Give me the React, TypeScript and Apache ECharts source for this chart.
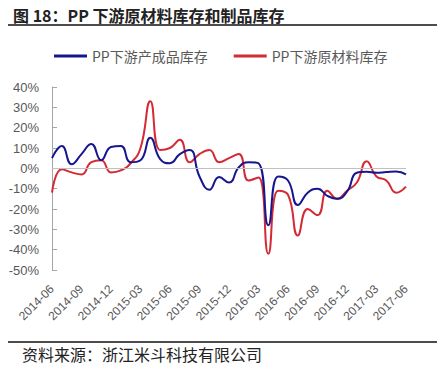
import React, { useEffect, useRef } from "react";
import * as echarts from "echarts";

const months: string[] = [
  "2014-06","2014-07","2014-08","2014-09","2014-10","2014-11","2014-12",
  "2015-01","2015-02","2015-03","2015-04","2015-05","2015-06","2015-07","2015-08","2015-09","2015-10","2015-11","2015-12",
  "2016-01","2016-02","2016-03","2016-04","2016-05","2016-06","2016-07","2016-08","2016-09","2016-10","2016-11","2016-12",
  "2017-01","2017-02","2017-03","2017-04","2017-05","2017-06",
];

const finishedGoods: number[] = [
  5, 11, 2, 7, 12, 4, 10.5, 11, 3, 4, 15, 4.5, 2.5, 7, 9, -4, -10.5, -4.3, -7,
  0.5, 3, 2.5, -28, -4, -6, -18, -12, -10, -13.5, -15, -11.5, -2.2, -1.7, -2.2, -1.8, -1.5, -3,
];

const rawMaterial: number[] = [
  -12, -0.5, -2, -3, 3, 4, -2, -1, 2.5, 10, 33, 9, 10, 14, 3, 7, 9, 3, 5,
  7, -6, -4.5, -42, -11, -13, -33, -20, -23, -11, -15, -11, -7, 3.5, -4, -6, -12, -9,
];

const seriesNames: string[] = ["PP下游产成品库存", "PP下游原材料库存"];
const titleText = "图 18：PP 下游原材料库存和制品库存";
const sourceText = "资料来源：浙江米斗科技有限公司";

export default function App() {
  const ref = useRef<HTMLDivElement>(null);
  useEffect(() => {
    if (!ref.current) return;
    const chart = echarts.init(ref.current, null, { renderer: "svg" });
    const cjk = '"Noto Sans CJK SC", "Liberation Sans", sans-serif';
    const latin = '"Liberation Sans", "Noto Sans CJK SC", sans-serif';
    chart.setOption({
      animation: false,
      backgroundColor: "#ffffff",
      grid: { left: 52, right: 39, top: 87, bottom: 101, containLabel: false },
      legend: {
        left: 49,
        top: 44,
        itemWidth: 33,
        itemHeight: 3,
        itemGap: 26,
        icon: "rect",
        textStyle: { fontSize: 14, color: "#595959", fontFamily: cjk },
        data: seriesNames,
      },
      xAxis: {
        type: "category",
        data: months,
        boundaryGap: false,
        axisLine: { show: false, onZero: false },
        axisTick: { show: false },
        axisLabel: {
          interval: 2,
          rotate: 45,
          fontSize: 12,
          color: "#595959",
          fontFamily: latin,
          margin: 17,
        },
        splitLine: { show: false },
      },
      yAxis: {
        type: "value",
        min: -50,
        max: 40,
        interval: 10,
        axisLine: { show: true, lineStyle: { color: "#a6a6a6", width: 1 } },
        axisTick: { show: true, inside: true, length: 5, lineStyle: { color: "#a6a6a6" } },
        axisLabel: {
          formatter: "{value}%",
          fontSize: 13,
          color: "#595959",
          fontFamily: latin,
          margin: 13,
        },
        splitLine: { show: false },
      },
      series: [
        {
          name: seriesNames[0],
          type: "line",
          data: finishedGoods,
          smooth: 0.5,
          symbol: "none",
          lineStyle: { color: "#16168f", width: 2 },
          itemStyle: { color: "#16168f" },
          z: 3,
          markLine: {
            silent: true,
            symbol: "none",
            label: { show: false },
            lineStyle: { color: "#c0c0c0", width: 1, type: "solid" },
            data: [{ yAxis: 0 }],
          },
        },
        {
          name: seriesNames[1],
          type: "line",
          data: rawMaterial,
          smooth: 0.5,
          symbol: "none",
          lineStyle: { color: "#d42a35", width: 2 },
          itemStyle: { color: "#d42a35" },
          z: 2,
        },
      ],
      graphic: [
        {
          type: "text",
          left: 13,
          top: 7,
          style: { text: titleText, fontSize: 16, fontWeight: "bold", fill: "#222222", fontFamily: cjk },
        },
        {
          type: "line",
          shape: { x1: 0, y1: 25, x2: 445, y2: 25 },
          style: { stroke: "#111111", lineWidth: 1.5 },
        },
        {
          type: "line",
          shape: { x1: 0, y1: 342, x2: 445, y2: 342 },
          style: { stroke: "#111111", lineWidth: 1.5 },
        },
        {
          type: "text",
          left: 22,
          top: 346,
          style: { text: sourceText, fontSize: 16, fill: "#222222", fontFamily: cjk },
        },
      ],
    });
    return () => chart.dispose();
  }, []);
  return <div ref={ref} style={{ width: 445, height: 371, margin: -8 }} />;
}
